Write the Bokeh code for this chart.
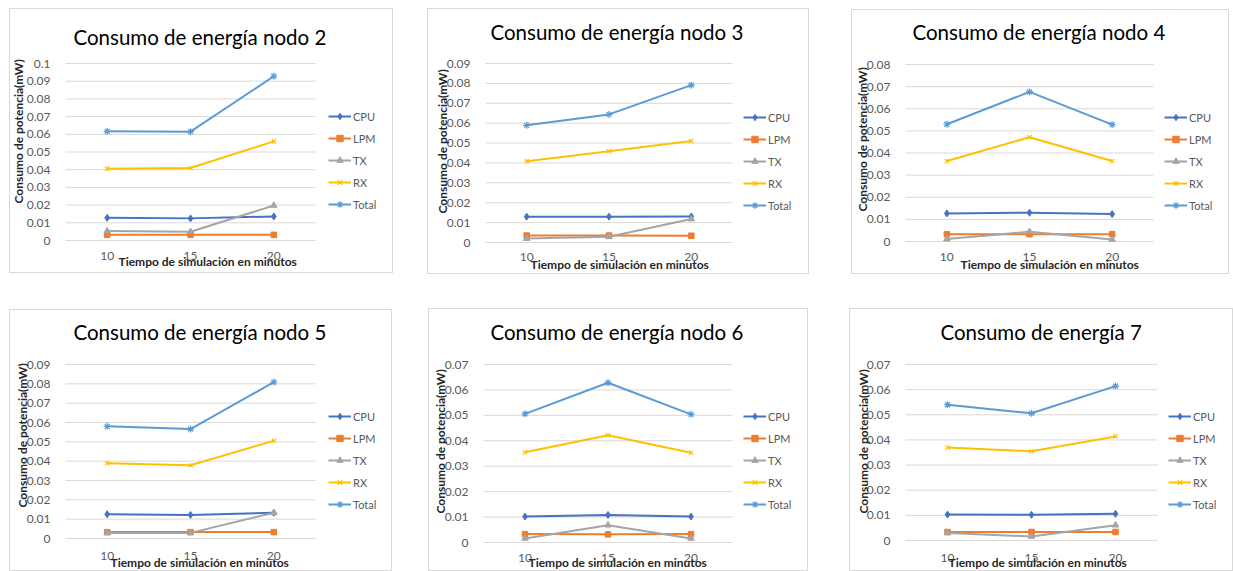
import math
from bokeh.plotting import figure
from bokeh.models import Range1d, FixedTicker, NumeralTickFormatter, Legend, LegendItem, Label
from bokeh.layouts import row, column
from bokeh.embed import file_html
from bokeh.resources import INLINE

# Simulation time (minutes) and measured series
minutos = [10, 15, 20]
series = ["CPU", "LPM", "TX", "RX", "Total"]

nodo2 = {"CPU": [0.0128, 0.0125, 0.0136], "LPM": [0.0032, 0.0032, 0.0032],
         "TX": [0.0053, 0.0049, 0.0198], "RX": [0.0406, 0.0410, 0.0560],
         "Total": [0.0617, 0.0615, 0.0928]}
nodo3 = {"CPU": [0.0130, 0.0130, 0.0131], "LPM": [0.0035, 0.0035, 0.0034],
         "TX": [0.0020, 0.0029, 0.0118], "RX": [0.0409, 0.0459, 0.0510],
         "Total": [0.0589, 0.0644, 0.0791]}
nodo4 = {"CPU": [0.0127, 0.0130, 0.0124], "LPM": [0.0033, 0.0033, 0.0033],
         "TX": [0.0011, 0.0044, 0.0009], "RX": [0.0364, 0.0471, 0.0364],
         "Total": [0.0530, 0.0676, 0.0528]}
nodo5 = {"CPU": [0.0126, 0.0122, 0.0133], "LPM": [0.0033, 0.0033, 0.0033],
         "TX": [0.0029, 0.0029, 0.0133], "RX": [0.0389, 0.0379, 0.0506],
         "Total": [0.0580, 0.0566, 0.0809]}
nodo6 = {"CPU": [0.0102, 0.0108, 0.0102], "LPM": [0.0033, 0.0032, 0.0033],
         "TX": [0.0016, 0.0068, 0.0016], "RX": [0.0355, 0.0422, 0.0353],
         "Total": [0.0506, 0.0628, 0.0504]}
nodo7 = {"CPU": [0.0103, 0.0102, 0.0106], "LPM": [0.0034, 0.0034, 0.0034],
         "TX": [0.0030, 0.0016, 0.0061], "RX": [0.0370, 0.0355, 0.0414],
         "Total": [0.0540, 0.0506, 0.0614]}

titulos = ["Consumo de energía nodo 2", "Consumo de energía nodo 3", "Consumo de energía nodo 4",
           "Consumo de energía nodo 5", "Consumo de energía nodo 6", "Consumo de energía 7"]
y_max = [0.10, 0.09, 0.08, 0.09, 0.07, 0.07]
eje_y = "Consumo de potencia(mW)"
eje_x = "Tiempo de simulación en minutos"

FONT = "Lato"
colores = {"CPU": "#4472C4", "LPM": "#ED7D31", "TX": "#A5A5A5", "RX": "#FFC000", "Total": "#5B9BD5"}
marcadores = {"CPU": ("diamond", 7), "LPM": ("square", 5.5), "TX": ("triangle", 6.5),
              "RX": ("x", 6), "Total": ("asterisk", 7)}

PASO = 5  # minutes between categories


def grafico(titulo, datos, ymax, caja, area, tit, xlab, ylab, tick_y, leyenda):
    """caja: chart box (left, top, width, height) in page px;
    area: plotting area (left, top, right, bottom) in page px."""
    ox, oy, w, h = caja
    fl, ft, fr, fb = area
    x_lo = minutos[0] - PASO / 2
    x_hi = minutos[-1] + PASO / 2
    kx = (fr - fl) / (x_hi - x_lo)          # px per minute
    ky = (fb - ft) / ymax                   # px per mW

    def dx(px):
        return x_lo + (px - fl) / kx

    def dy(py):
        return (fb - py) / ky

    # the frame covers the whole chart box; the axes sit on the plotting area
    p = figure(x_range=Range1d(dx(ox), dx(ox + w)), y_range=Range1d(dy(oy + h), dy(oy)),
               width=w, height=h, output_backend="svg", toolbar_location=None,
               min_border=0, min_border_left=0, min_border_right=0,
               min_border_top=0, min_border_bottom=0)
    p.outline_line_color = None
    p.background_fill_color = "white"
    p.border_fill_color = "white"
    p.styles = {"outline": "1px solid #D9D9D9"}
    p.xgrid.grid_line_color = None
    p.ygrid.grid_line_color = None

    n = int(round(ymax / 0.01))
    niveles = [round(i * 0.01, 2) for i in range(n + 1)]

    # horizontal gridlines (the zero line doubles as the category axis line)
    p.segment(x0=[x_lo] * len(niveles), x1=[x_hi] * len(niveles), y0=niveles, y1=niveles,
              line_color="#D9D9D9", line_width=1)

    p.yaxis.fixed_location = x_lo
    p.yaxis.bounds = (0, ymax)
    p.yaxis.ticker = FixedTicker(ticks=niveles)
    p.yaxis.formatter = NumeralTickFormatter(format="0.[00]")
    p.yaxis.axis_line_color = None
    p.yaxis.major_tick_line_color = None
    p.yaxis.minor_tick_line_color = None
    p.yaxis.major_label_standoff = 9
    p.yaxis.major_label_text_font = FONT
    p.yaxis.major_label_text_font_size = "12px"
    p.yaxis.major_label_text_color = "#595959"

    p.xaxis.fixed_location = 0
    p.xaxis.bounds = (x_lo, x_hi)
    p.xaxis.ticker = FixedTicker(ticks=minutos)
    p.xaxis.axis_line_color = None
    p.xaxis.major_tick_line_color = None
    p.xaxis.minor_tick_line_color = None
    p.xaxis.major_label_standoff = int(round(tick_y - fb - 10))
    p.xaxis.major_label_text_font = FONT
    p.xaxis.major_label_text_font_size = "12px"
    p.xaxis.major_label_text_color = "#595959"

    # titles
    p.add_layout(Label(x=dx(tit[0]), y=dy(tit[1] - 2), text=titulo, text_align="left",
                       text_baseline="middle", text_font=FONT, text_font_size="20.5px",
                       text_color="#000000"))
    p.add_layout(Label(x=dx(xlab[0]), y=dy(xlab[1] - 2), text=eje_x, text_align="left",
                       text_baseline="middle", text_font=FONT, text_font_size="12px",
                       text_font_style="bold", text_color="#262626"))
    p.add_layout(Label(x=dx(ylab[0]), y=dy(ylab[1]), text=eje_y, angle=math.pi / 2,
                       text_align="left", text_baseline="middle", text_font=FONT,
                       text_font_size="12px", text_font_style="bold", text_color="#262626"))

    items = []
    for s in series:
        c = colores[s]
        m, sz = marcadores[s]
        lr = p.line(minutos, datos[s], line_color=c, line_width=2)
        if m in ("x", "asterisk"):
            sr = p.scatter(minutos, datos[s], marker=m, size=sz, line_color=c, line_width=1.2)
        else:
            sr = p.scatter(minutos, datos[s], marker=m, size=sz, fill_color=c, line_color=c)
        items.append(LegendItem(label=s, renderers=[lr, sr]))

    lx, cpu_y = leyenda
    leg = Legend(items=items, location=(lx - ox, (oy + h) - cpu_y + 8 - 104),
                 orientation="vertical", glyph_width=23, glyph_height=16, label_height=16,
                 spacing=6, padding=0, margin=0, label_standoff=2,
                 border_line_color=None, background_fill_alpha=0,
                 label_text_font=FONT, label_text_font_size="11px", label_text_color="#595959")
    p.add_layout(leg, "center")
    return p


p1 = grafico(titulos[0], nodo2, y_max[0], (10, 9, 382, 263), (65, 63, 315, 240),
             (73, 38), (118, 263), (18, 203), 255, (328, 116))
p2 = grafico(titulos[1], nodo3, y_max[1], (428, 9, 380, 264), (485, 63, 732, 242),
             (490, 33), (530, 266), (442, 213), 256, (743, 117))
p3 = grafico(titulos[2], nodo4, y_max[2], (852, 10, 376, 263), (905, 64, 1153, 241),
             (912, 33), (960, 266), (862, 211), 256, (1164, 117))
p4 = grafico(titulos[3], nodo5, y_max[3], (10, 310, 381, 260), (65, 364, 315, 538),
             (73, 333), (110, 564), (22, 507), 555, (328, 416))
p5 = grafico(titulos[4], nodo6, y_max[4], (429, 309, 378, 261), (483, 364, 732, 542),
             (490, 333), (528, 564), (440, 513), 557, (743, 416))
p6 = grafico(titulos[5], nodo7, y_max[5], (850, 309, 382, 261), (905, 364, 1157, 540),
             (940, 333), (948, 564), (863, 513), 557, (1168, 416))

p1.margin = (9, 0, 0, 10)
p2.margin = (9, 0, 0, 36)
p3.margin = (10, 0, 0, 44)
p4.margin = (37, 0, 0, 10)
p5.margin = (36, 0, 0, 38)
p6.margin = (36, 0, 0, 43)

layout = column(row(p1, p2, p3, spacing=0), row(p4, p5, p6, spacing=0), spacing=0)

open("out.html", "w").write(file_html(layout, INLINE))
